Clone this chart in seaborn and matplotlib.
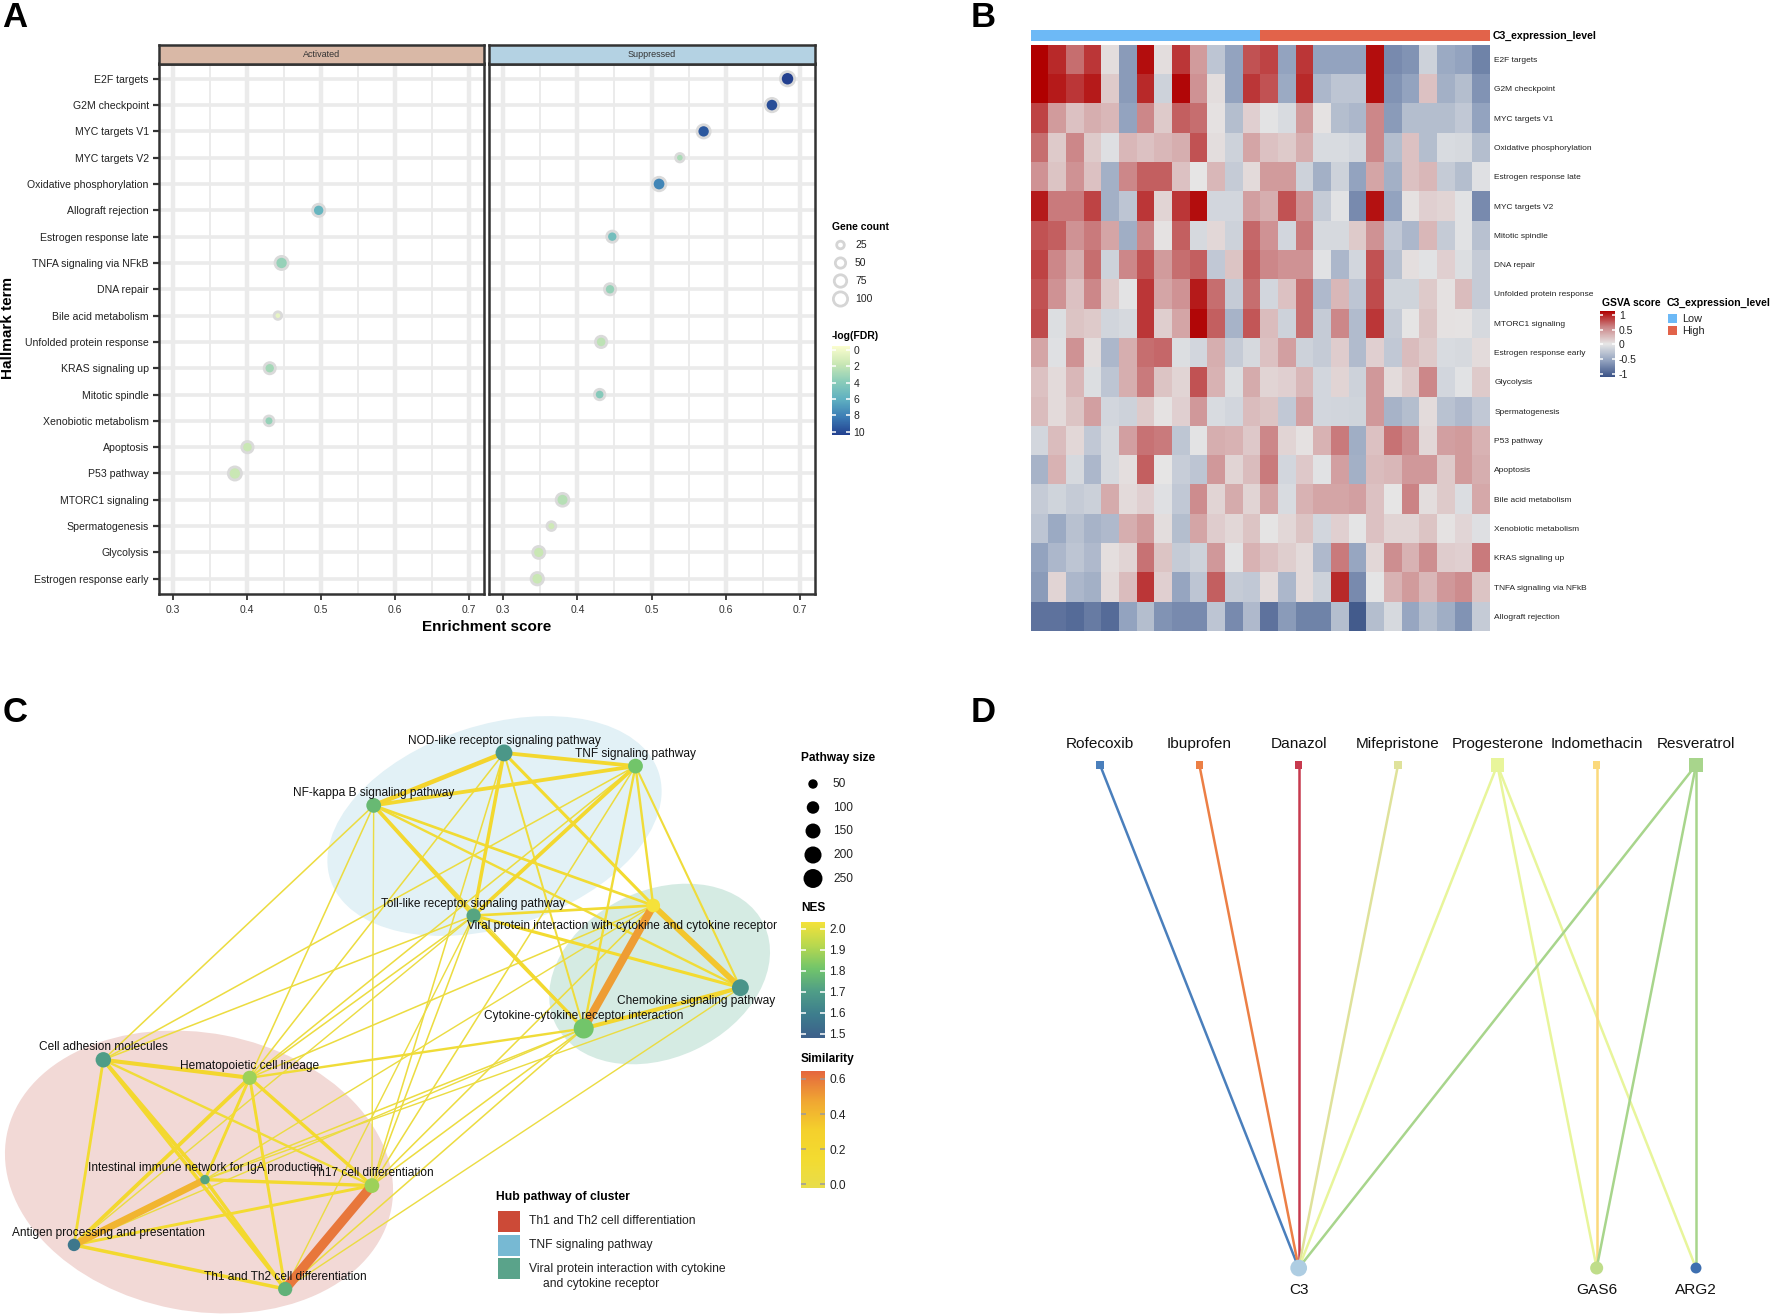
import numpy as np
import pandas as pd
import matplotlib
matplotlib.use("Agg")
import matplotlib.pyplot as plt
import seaborn as sns
from matplotlib.colors import LinearSegmentedColormap, Normalize
from matplotlib.cm import ScalarMappable
from matplotlib.patches import Ellipse, Rectangle

sns.set_theme(style="white")
plt.rcParams["font.family"] = ["Liberation Sans", "DejaVu Sans"]

W, H = 1772, 1315

# ---- panel A data
terms = ["E2F targets", "G2M checkpoint", "MYC targets V1", "MYC targets V2", "Oxidative phosphorylation",
         "Allograft rejection", "Estrogen response late", "TNFA signaling via NFkB", "DNA repair",
         "Bile acid metabolism", "Unfolded protein response", "KRAS signaling up", "Mitotic spindle",
         "Xenobiotic metabolism", "Apoptosis", "P53 pathway", "MTORC1 signaling", "Spermatogenesis",
         "Glycolysis", "Estrogen response early"]
groups = ["Suppressed", "Suppressed", "Suppressed", "Suppressed", "Suppressed", "Activated", "Suppressed",
          "Activated", "Suppressed", "Activated", "Suppressed", "Activated", "Suppressed", "Activated",
          "Activated", "Activated", "Suppressed", "Suppressed", "Suppressed", "Suppressed"]
scores = [0.683, 0.662, 0.570, 0.538, 0.510, 0.497, 0.447, 0.447, 0.444, 0.442,
          0.432, 0.431, 0.430, 0.430, 0.401, 0.384, 0.380, 0.365, 0.348, 0.346]
logfdr = [10, 9.5, 9.2, 3, 7.6, 5.6, 5, 3.6, 3.6, 0.8, 2.4, 3.2, 4.2, 3.6, 2, 2, 2.6, 1.8, 2, 2]
counts = [100, 88, 85, 32, 90, 72, 60, 85, 60, 22, 62, 60, 52, 45, 62, 85, 80, 35, 70, 75]
gene_levels = [25, 50, 75, 100]
fdr_ticks = [0, 2, 4, 6, 8, 10]
score_ticks = [0.3, 0.4, 0.5, 0.6, 0.7]
score_minor = [0.35, 0.45, 0.55, 0.65]

# ---- panel B data
heat_rows = ["E2F targets", "G2M checkpoint", "MYC targets V1", "Oxidative phosphorylation",
             "Estrogen response late", "MYC targets V2", "Mitotic spindle", "DNA repair",
             "Unfolded protein response", "MTORC1 signaling", "Estrogen response early", "Glycolysis",
             "Spermatogenesis", "P53 pathway", "Apoptosis", "Bile acid metabolism", "Xenobiotic metabolism",
             "KRAS signaling up", "TNFA signaling via NFkB", "Allograft rejection"]
heat_values = [
    [1.0, .85, .6, .8, .05, -.55, .95, .05, .8, .4, -.25, -.5, .7, .75, -.5, .8, -.5, -.5, -.5, .95, -.65, -.6, -.15, -.45, -.5, -.7],
    [1.0, .9, .8, .9, .15, -.55, .85, -.15, .97, .45, .05, -.5, .8, .7, -.45, .85, -.35, -.25, -.25, .95, -.6, -.5, .2, -.4, -.3, -.6],
    [.75, .4, .2, .3, .25, -.5, .5, .15, .65, .6, .03, -.3, .12, -.02, -.08, .4, .02, -.3, -.35, .5, -.55, -.3, -.3, -.3, -.22, -.5],
    [.6, .15, .5, .15, -.05, .25, .2, .25, .3, .7, .05, -.15, .35, .2, .15, .3, -.08, -.08, -.12, .5, -.3, .2, -.3, -.08, -.1, -.3],
    [.45, .18, .45, .2, -.4, .5, .65, .65, .2, 0, .25, -.2, .07, .4, .4, -.15, -.4, -.15, -.5, .35, -.4, .2, .25, -.2, -.3, -.04],
    [.9, .55, .55, .75, -.4, -.25, .8, .1, .8, .95, -.12, -.12, .38, .3, .7, .45, -.2, -.03, -.65, .93, -.5, .03, .12, .1, -.03, -.65],
    [.7, .65, .45, .55, .35, -.42, .5, .02, .65, -.1, .08, -.15, .62, .45, -.12, .55, -.1, -.1, .15, .45, -.22, -.35, .25, -.2, -.03, -.28],
    [.75, .5, .3, .6, -.15, .5, .7, .4, .6, .65, -.22, .18, .65, .5, .45, .45, -.03, -.35, -.12, .7, -.28, .04, -.03, .12, -.06, -.2],
    [.7, .45, .2, .5, .15, -.02, .8, .35, .45, .9, .6, -.2, .6, -.12, .2, .6, -.33, .25, -.25, .72, -.14, -.14, .15, .03, .22, -.2],
    [.72, -.06, .18, .15, -.13, -.1, .8, .13, .35, .97, .65, -.38, .68, .22, -.15, .6, -.2, .5, -.32, .8, -.2, .01, .18, .03, .02, -.1],
    [.35, -.04, .45, .05, -.35, .3, .6, .62, -.06, -.12, .3, -.2, -.1, .2, .38, -.15, -.2, .14, -.32, .12, -.22, .22, .15, -.08, -.1, .06],
    [.2, .07, .25, -.06, -.25, .3, .55, .18, .1, .7, .28, -.06, .32, .1, .12, .25, -.12, .1, -.15, .42, .06, .15, .5, -.12, -.03, .15],
    [.22, .07, .18, .38, -.12, -.15, .15, .02, .12, .42, -.08, -.12, .22, .18, -.22, .38, -.12, -.13, -.14, .42, -.38, -.3, .06, -.27, -.33, -.22],
    [-.12, .22, .08, -.22, -.1, .38, .58, .55, -.24, -.02, .3, .28, .16, .5, .1, .03, .28, .55, -.42, .2, .58, .48, .08, .38, .4, .28],
    [-.38, .28, -.1, -.35, -.1, .04, .65, 0, -.18, -.25, .42, .1, .22, .55, -.12, .16, -.03, .38, -.4, .22, .25, .42, .42, .15, .4, .3],
    [-.2, -.14, -.2, -.16, .32, .07, .12, -.04, -.22, .48, .1, .32, .1, .35, -.08, .28, .35, .35, .38, .2, 0, .52, .05, .15, -.07, .33],
    [-.25, -.45, -.28, -.38, -.33, .3, .4, .05, -.3, .35, .14, .08, .18, .01, .08, .18, -.12, .12, -.01, .2, .1, .1, .18, .02, .09, -.05],
    [-.5, -.35, -.25, -.33, .04, .1, .58, .18, -.2, -.15, .42, -.02, .28, .2, .13, .07, -.33, .55, -.47, .08, .47, .28, .47, .14, .12, .55],
    [-.55, .1, -.35, -.4, .07, .22, .8, .12, -.48, -.25, .65, -.2, -.22, .06, -.35, .07, -.15, .85, -.65, -.01, .28, .4, .25, .42, .48, .18],
    [-.8, -.8, -.85, -.75, -.85, -.5, -.3, -.6, -.65, -.65, -.25, -.65, -.33, -.8, -.55, -.7, -.7, -.3, -.95, -.3, -.1, -.47, -.3, -.42, -.6, -.2],
]
c3_level = [0] * 13 + [1] * 13
gsva_ticks = [1, 0.5, 0, -0.5, -1]

# ---- panel C data
pathways = ["NOD-like receptor signaling pathway", "TNF signaling pathway", "NF-kappa B signaling pathway",
            "Toll-like receptor signaling pathway", "Viral protein interaction with cytokine and cytokine receptor",
            "Chemokine signaling pathway", "Cytokine-cytokine receptor interaction", "Cell adhesion molecules",
            "Hematopoietic cell lineage", "Intestinal immune network for IgA production", "Th17 cell differentiation",
            "Antigen processing and presentation", "Th1 and Th2 cell differentiation"]
node_x = [504, 635.5, 373.7, 473.6, 653.2, 740.4, 583.7, 103.3, 249.7, 205, 371.9, 74, 285.2]
node_y = [62.9, 76.1, 115.4, 225.6, 215.5, 297.7, 338.5, 369.8, 387.8, 489.6, 495.6, 554.9, 599]
label_x = [504, 635.5, 373.7, 473.6, 622.3, 696.4, 583.7, 103.3, 249.7, 205, 371.9, 108.5, 285.2]
label_y = [51, 64, 103, 213.5, 235.5, 311, 325.5, 357.5, 375.5, 477.5, 483.5, 543, 586.5]
nes = [1.68, 1.80, 1.77, 1.72, 2.00, 1.67, 1.80, 1.70, 1.86, 1.72, 1.86, 1.58, 1.75]
path_size = [195, 146, 146, 134, 124, 195, 280, 160, 134, 50, 146, 100, 134]
edge_from = [0, 0, 1, 2, 0, 1, 0, 1, 1, 2, 2, 3, 3, 3, 0, 1, 4, 4, 5,
             7, 7, 7, 7, 7, 8, 8, 8, 8, 9, 9, 9, 10, 10, 11,
             8, 7, 7, 7, 8, 8, 8, 8, 8, 9, 9, 10, 10, 10, 10, 10, 10, 12, 12, 11, 11, 12, 9, 2]
edge_to = [1, 2, 2, 3, 3, 3, 4, 4, 5, 4, 5, 4, 5, 6, 6, 6, 6, 5, 6,
           8, 9, 10, 11, 12, 9, 10, 11, 12, 10, 11, 12, 11, 12, 12,
           6, 2, 3, 1, 0, 1, 3, 4, 2, 6, 5, 2, 0, 1, 3, 4, 6, 6, 5, 6, 3, 3, 4, 6]
edge_sim = [.2, .25, .2, .2, .18, .2, .15, .1, .08, .12, .1, .12, .15, .17, .07, .1, .5, .35, .22,
            .22, .2, .1, .13, .18, .14, .17, .2, .14, .17, .42, .18, .14, .6, .18,
            .1, .04, .04, .04, .04, .04, .04, .04, .04, .04, .03, .03, .04, .04, .04, .04, .04, .04, .03, .03, .03, .03, .03, .03]
ell_x = [199, 494.5, 659.6]
ell_y = [482, 136, 284]
ell_w = [391.6, 345.4, 231]
ell_h = [278, 201.8, 167.4]
ell_angle = [10.9, -18.1, -25.2]
ell_color = ["#F2D9D6", "#E2F1F6", "#D5EBE3"]
size_levels = [50, 100, 150, 200, 250]
nes_ticks = [2.0, 1.9, 1.8, 1.7, 1.6, 1.5]
sim_ticks = [0.6, 0.4, 0.2, 0.0]
hub_names = ["Th1 and Th2 cell differentiation", "TNF signaling pathway", "Viral protein interaction with cytokine"]
hub_colors = ["#CC4A37", "#77B9D3", "#5AA38A"]

# ---- panel D data
drugs = ["Rofecoxib", "Ibuprofen", "Danazol", "Mifepristone", "Progesterone", "Indomethacin", "Resveratrol"]
drug_colors = ["#4A7FBC", "#EC7F45", "#C73A4E", "#DFE29B", "#E8F59B", "#FBD97C", "#A8D58C"]
drug_sizes = [26, 26, 26, 26, 92, 26, 92]
genes = ["C3", "GAS6", "ARG2"]
gene_pos = [2, 5, 6]
gene_colors = ["#AECDE2", "#BFDD8A", "#3E6FB0"]
gene_sizes = [145, 88, 62]
link_drug = [0, 1, 2, 3, 4, 4, 4, 5, 6, 6, 6]
link_gene = [0, 0, 0, 0, 0, 1, 2, 1, 0, 1, 2]

fig = plt.figure(figsize=(W / 100, H / 100), dpi=100, facecolor="white")


def px_axes(x0, y0, x1, y1, **kw):
    return fig.add_axes([x0 / W, 1 - y1 / H, (x1 - x0) / W, (y1 - y0) / H], **kw)


over = fig.add_axes([0, 0, 1, 1], zorder=20)
over.set_xlim(0, W)
over.set_ylim(H, 0)
over.axis("off")


def note(x, y, s, size=7.5, weight="normal", ha="left", color="black", **kw):
    over.text(x, y, s, fontsize=size, fontweight=weight, ha=ha, va="center", color=color, **kw)


def color_bar(cmap, vmin, vmax, ticks, box, fmt, tick_color="white", size=7.5, flip=False):
    cax = px_axes(*box)
    sm = ScalarMappable(norm=Normalize(vmin, vmax), cmap=cmap)
    cb = fig.colorbar(sm, cax=cax, ticks=ticks)
    cb.outline.set_visible(False)
    cb.ax.set_yticklabels([fmt(t) for t in ticks], fontsize=size, color="#222222")
    cb.ax.tick_params(length=0, pad=3)
    for t in ticks:
        cb.ax.plot([0, 0.2], [t, t], color=tick_color, lw=1.1, transform=cb.ax.get_yaxis_transform(), solid_capstyle="butt")
        cb.ax.plot([0.8, 1], [t, t], color=tick_color, lw=1.1, transform=cb.ax.get_yaxis_transform(), solid_capstyle="butt")
    if flip:
        cb.ax.invert_yaxis()
    return cb


# ---------- A
for letter, lx, ly in [("A", 15, 17), ("B", 983, 17), ("C", 15, 712), ("D", 983, 712)]:
    note(lx, ly, letter, size=25, weight="bold", ha="center")

fdr_cmap = LinearSegmentedColormap.from_list("fdr", ["#FBFDCF", "#C9E7B4", "#8ACCB9", "#5FB0C1", "#3B7CB5", "#23408F"])
df = pd.DataFrame({"term": terms, "group": groups, "score": scores, "fdr": logfdr, "count": counts})
df["row"] = [terms.index(t) for t in df["term"]]

boxes = {"Activated": (158.5, 63.5, 484, 594), "Suppressed": (489, 63.5, 815, 594)}
strips = {"Activated": "#D9B8A6", "Suppressed": "#B4D2E3"}
for name, box in boxes.items():
    ax = px_axes(*box)
    ax.set_axisbelow(True)
    for r in range(len(terms)):
        ax.axhline(r, color="#EBEBEB", lw=2.6, zorder=0)
    for v in score_ticks:
        ax.axvline(v, color="#EBEBEB", lw=3.2, zorder=0)
    for v in score_minor:
        ax.axvline(v, color="#EBEBEB", lw=1.4, zorder=0)
    sns.scatterplot(data=df[df["group"] == name], x="score", y="row", hue="fdr", hue_norm=(0, 10),
                    palette=fdr_cmap, size="count", size_norm=(25, 100), sizes=(30, 105),
                    edgecolor="#DADADA", linewidth=2.0, legend=False, ax=ax, zorder=3)
    ax.set_xlim(0.281, 0.72)
    ax.set_ylim(19.58, -0.58)
    ax.set_xticks(score_ticks)
    ax.set_xticklabels(["%.1f" % v for v in score_ticks], fontsize=7.5, color="#333333")
    ax.set_xlabel("")
    ax.set_ylabel("")
    ax.tick_params(axis="x", length=4, width=1.3, color="#333333", bottom=True, pad=4)
    if name == "Activated":
        ax.set_yticks(range(len(terms)))
        ax.set_yticklabels(terms, fontsize=7.6, color="#222222")
        ax.tick_params(axis="y", length=4, width=1.6, color="#333333", left=True, pad=3)
    else:
        ax.set_yticks([])
    for s in ax.spines.values():
        s.set_visible(True)
        s.set_color("#333333")
        s.set_linewidth(1.8)
    strip = px_axes(box[0], 45, box[2], 63.5, facecolor=strips[name])
    strip.set_xticks([])
    strip.set_yticks([])
    for s in strip.spines.values():
        s.set_visible(True)
        s.set_color("#333333")
        s.set_linewidth(1.8)
    strip.text(0.5, 0.5, name, ha="center", va="center", fontsize=6.5, color="#333333", transform=strip.transAxes)

note(486.5, 627, "Enrichment score", size=11, weight="bold", ha="center")
over.text(8, 328, "Hallmark term", fontsize=11, fontweight="bold", rotation=90, ha="center", va="center", color="black")

note(832, 226.5, "Gene count", size=7.5, weight="bold")
gene_y = [245, 263, 281, 299]
sns.scatterplot(x=[840.5] * 4, y=gene_y, size=gene_levels, size_norm=(25, 100), sizes=(30, 105), color="white",
                edgecolor="#D5D5D5", linewidth=2.0, legend=False, ax=over, zorder=3)
for gy, lev in zip(gene_y, gene_levels):
    note(855, gy, str(lev), size=7.5, color="#222222")
note(832, 336, "-log(FDR)", size=7.5, weight="bold")
color_bar(fdr_cmap, -0.45, 10.4, fdr_ticks, (832, 346, 849.5, 435), lambda t: str(t), flip=True)

# ---------- B
heat_cmap = LinearSegmentedColormap.from_list("gsva", ["#3B5387", "#93A3BF", "#E6E6E6", "#CC898B", "#B00000"])
heat_df = pd.DataFrame(heat_values, index=heat_rows)
axh = px_axes(1030.5, 44.8, 1490, 631)
sns.heatmap(heat_df, cmap=heat_cmap, vmin=-1, vmax=1, cbar=False, xticklabels=False, yticklabels=True, ax=axh)
axh.yaxis.tick_right()
axh.set_yticklabels(heat_rows, rotation=0, fontsize=6.0, color="#222222")
axh.tick_params(axis="y", length=0, pad=3)

axa = px_axes(1030.5, 30, 1490, 41)
sns.heatmap(np.array([c3_level]), cmap=["#6DB9F6", "#E2634A"], cbar=False, xticklabels=False, yticklabels=False, ax=axa)
note(1493, 36, "C3_expression_level", size=7.6, weight="bold")

note(1602, 303, "GSVA score", size=7.5, weight="bold")
color_bar(heat_cmap, -1.11, 1.136, gsva_ticks, (1600, 311, 1614.7, 377), lambda t: "%g" % t)
note(1667, 303, "C3_expression_level", size=7.6, weight="bold")
for i, (lab, col) in enumerate(zip(["Low", "High"], ["#6DB9F6", "#E2634A"])):
    over.add_patch(Rectangle((1668.4, 314 + 12 * i), 9, 9, color=col, lw=0))
    note(1682, 318.5 + 12 * i, lab, size=7.8, color="#222222")

# ---------- C
axc = px_axes(0, 690, 900, 1315)
for ex, ey, ew, eh, ea, ec in zip(ell_x, ell_y, ell_w, ell_h, ell_angle, ell_color):
    axc.add_patch(Ellipse((ex, ey), ew, eh, angle=ea, color=ec, lw=0, zorder=1))

edge_cmap = LinearSegmentedColormap.from_list("sim", ["#E8DD4B", "#F3DB30", "#F4D02C", "#F0A632", "#E5673E"])
edge_norm = Normalize(-0.02, 0.643)
for i in np.argsort(edge_sim):
    a, b, sim = edge_from[i], edge_to[i], edge_sim[i]
    axc.plot([node_x[a], node_x[b]], [node_y[a], node_y[b]], color=edge_cmap(edge_norm(sim)),
             lw=(1 + 14 * sim) * 0.72, solid_capstyle="round", zorder=2)

nes_cmap = LinearSegmentedColormap.from_list("nes", ["#3D5F8A", "#3D7D8D", "#4F9D87", "#72C56A", "#B9D84E", "#F5E23A"])
node_df = pd.DataFrame({"x": node_x, "y": node_y, "nes": nes, "size": path_size})
sns.scatterplot(data=node_df, x="x", y="y", hue="nes", hue_norm=(1.5, 2.0), palette=nes_cmap, size="size",
                size_norm=(50, 280), sizes=(46, 207), linewidth=0, legend=False, ax=axc, zorder=3)
axc.set_xlim(0, 900)
axc.set_ylim(625, 0)
axc.axis("off")
for name, lx, ly in zip(pathways, label_x, label_y):
    axc.text(lx, ly, name, fontsize=8.55, ha="center", va="center", color="#111111", zorder=4)

note(801, 758, "Pathway size", size=8.6, weight="bold")
size_y = [784, 807.5, 831, 855, 878.5]
sns.scatterplot(x=[813] * 5, y=size_y, size=size_levels, size_norm=(50, 280), sizes=(46, 207), color="black",
                linewidth=0, legend=False, ax=over)
for sy, lev in zip(size_y, size_levels):
    note(833, sy, str(lev), size=8.6, color="#222222")
note(801, 908, "NES", size=8.6, weight="bold")
color_bar(nes_cmap, 1.48, 2.034, nes_ticks, (801, 921.6, 825, 1038), lambda t: "%.1f" % t, size=8.6)
note(801, 1058.6, "Similarity", size=8.6, weight="bold")
color_bar(edge_cmap, -0.02, 0.643, sim_ticks, (801, 1071.4, 825, 1188), lambda t: "%.1f" % t, tick_color="#9A9AA0", size=8.6)

note(496.5, 1196.8, "Hub pathway of cluster", size=8.7, weight="bold")
for i, (lab, col) in enumerate(zip(hub_names, hub_colors)):
    over.add_patch(Rectangle((497.7, 1211 + 23.7 * i), 22, 21, color=col, lw=0))
    note(529, 1221.5 + 23.7 * i, lab, size=8.7, color="#222222")
note(543, 1284.5, "and cytokine receptor", size=8.7, color="#222222")

# ---------- D
axd = px_axes(1000, 765, 1800, 1268)
for d, g in zip(link_drug, link_gene):
    axd.plot([d, gene_pos[g]], [1, 0], color=drug_colors[d], lw=1.8, zorder=1, clip_on=False)
sns.scatterplot(x=range(len(drugs)), y=[1] * len(drugs), hue=drugs, palette=drug_colors, size=drugs,
                sizes=dict(zip(drugs, drug_sizes)), marker="s", linewidth=0, legend=False, ax=axd, zorder=2, clip_on=False)
sns.scatterplot(x=gene_pos, y=[0] * len(genes), hue=genes, palette=gene_colors, size=genes,
                sizes=dict(zip(genes, gene_sizes)), linewidth=0, legend=False, ax=axd, zorder=2, clip_on=False)
axd.set_xlim(-1.007, 7.047)
axd.set_ylim(0, 1)
axd.axis("off")
for i, name in enumerate(drugs):
    axd.annotate(name, (i, 1), xytext=(0, 15), textcoords="offset points", ha="center", va="center", fontsize=11.1, color="#111111")
for pos, name in zip(gene_pos, genes):
    axd.annotate(name, (pos, 0), xytext=(0, -15.5), textcoords="offset points", ha="center", va="center", fontsize=11.1, color="#111111", annotation_clip=False)

fig.savefig("out.png", dpi=100)
